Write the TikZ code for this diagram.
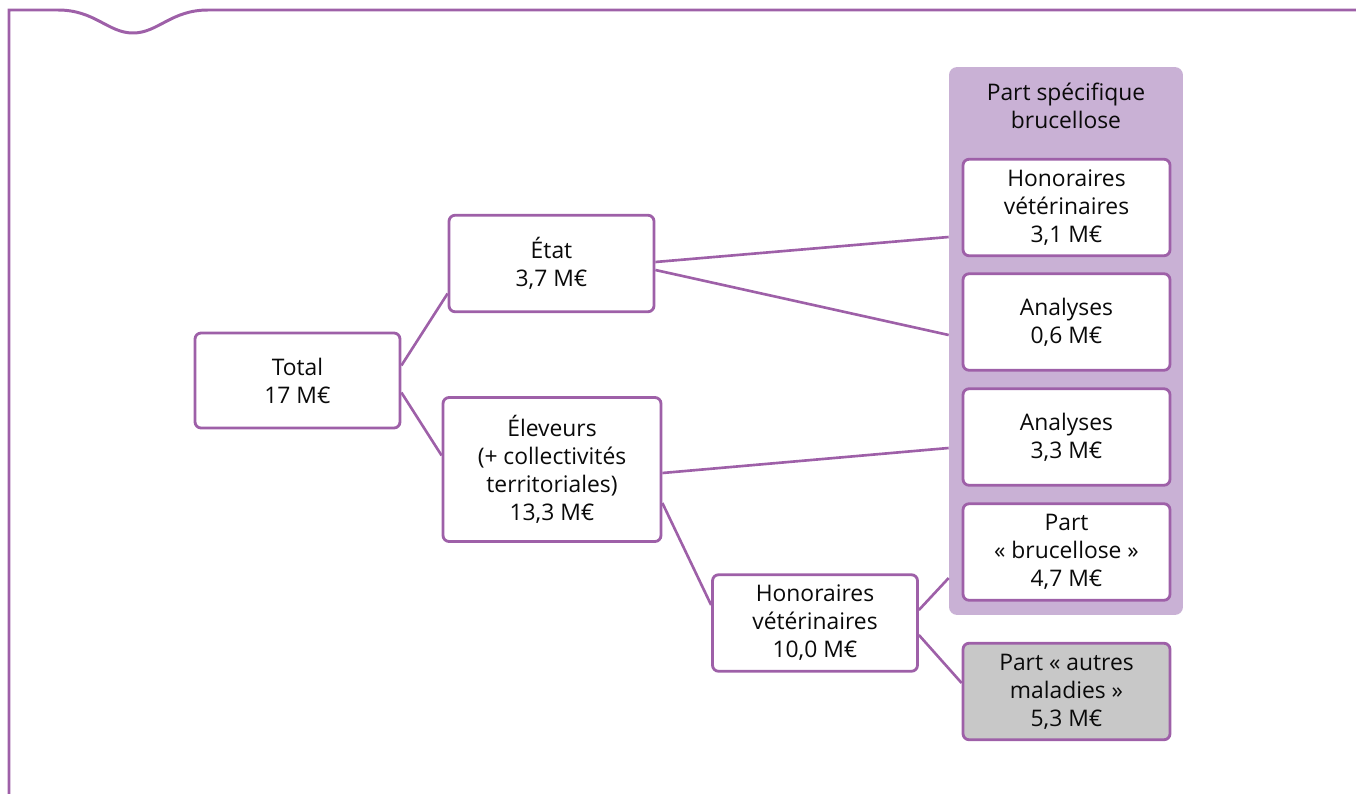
\documentclass[tikz,border=0pt]{standalone}
\usepackage{fontspec}
\setmainfont{Open Sans}
\usepackage{tikz}
\usetikzlibrary{calc}
\definecolor{brPurple}{RGB}{158, 96, 168}
\definecolor{brPanel}{RGB}{201, 177, 213}
\definecolor{brGray}{RGB}{200, 200, 200}
\definecolor{brText}{RGB}{10, 10, 10}
\tikzset{
    base/.style={
        font=\fontsize{13}{15.9}\selectfont,
        align=center,
        text=brText
    },
    cost/.style={
        base,
        rectangle,
        rounded corners=1.2mm,
        draw=brPurple,
        line width=1.6pt,
        fill=white,
        minimum width=4.1cm,
        minimum height=1.93cm,
        inner sep=1mm
    },
    other/.style={
        cost,
        fill=brGray
    },
    panelbox/.style={
        rectangle,
        rounded corners=1.6mm,
        fill=brPanel,
        minimum width=4.68cm,
        minimum height=10.96cm
    },
    link/.style={
        draw=brPurple,
        line width=1.5pt
    },
    frame/.style={
        draw=brPurple,
        line width=1.7pt
    }
}

\begin{document}
\begin{tikzpicture}[x=0.02cm, y=-0.02cm]
    \useasboundingbox (0,0) rectangle (1356,794);

    % Frame with tab
    \draw[frame] (9,794) -- (9,10) -- (58,10)
        .. controls (95,10) and (108,33) .. (133,33)
        .. controls (158,33) and (171,10) .. (208,10) -- (1356,10);

    % Brucellose panel
    \node[panelbox] (panel) at (1066,341) {};
    \node[base] (ptitle) at (1066,106) {Part spécifique\\brucellose};

    % Funders
    \node[cost, minimum height=1.9cm] (tot) at (297.5,380.5) {Total\\17 M€};
    \node[cost] (etat) at (551.5,263.5) {État\\3,7 M€};
    \node[cost, minimum width=4.36cm, minimum height=2.88cm] (elev) at (552,469.5) {Éleveurs\\(+ collectivités\\territoriales)\\13,3 M€};
    \node[cost] (honv) at (815,623) {Honoraires\\vétérinaires\\10,0 M€};

    % Costs
    \node[cost, minimum width=4.14cm] (hon31) at (1066.5,207.5) {Honoraires\\vétérinaires\\3,1 M€};
    \node[cost, minimum width=4.14cm] (ana06) at (1066.5,322) {Analyses\\0,6 M€};
    \node[cost, minimum width=4.14cm] (ana33) at (1066.5,437) {Analyses\\3,3 M€};
    \node[cost, minimum width=4.14cm] (partb) at (1066.5,552) {Part\\«~brucellose~»\\4,7 M€};
    \node[other, minimum width=4.14cm] (parta) at (1066.5,691.5) {Part «~autres\\maladies~»\\5,3 M€};

    % Links
    \draw[link] ($(tot.east)+(0,-15)$) -- ($(etat.west)+(0,30)$);
    \draw[link] ($(tot.east)+(0,12)$) -- ($(elev.west)+(0,-14)$);
    \draw[link] ($(etat.east)+(0,-1.5)$) -- ($(panel.west)+(0,-104)$);
    \draw[link] ($(etat.east)+(0,6.5)$) -- ($(panel.west)+(0,-6)$);
    \draw[link] ($(elev.east)+(0,3.5)$) -- ($(panel.west)+(0,107)$);
    \draw[link] ($(elev.east)+(0,33.5)$) -- ($(honv.west)+(0,-18)$);
    \draw[link] ($(honv.east)+(0,-13)$) -- ($(panel.west)+(0,237)$);
    \draw[link] ($(honv.east)+(0,12)$) -- ($(parta.west)+(0,-8.5)$);
\end{tikzpicture}
\end{document}
